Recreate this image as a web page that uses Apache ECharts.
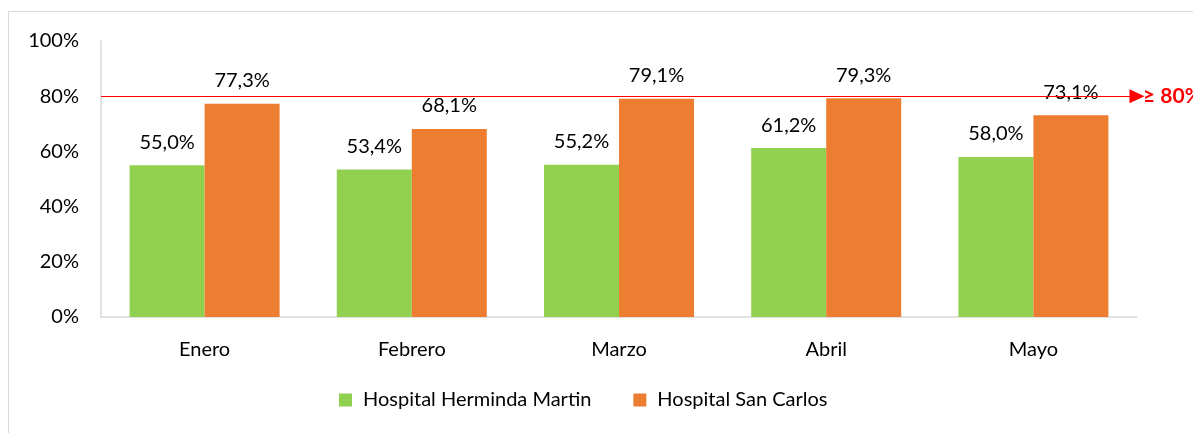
<!DOCTYPE html>
<html>
<head>
<meta charset="utf-8">
<script src="https://cdn.jsdelivr.net/npm/echarts@6/dist/echarts.min.js"></script>
<style>
html,body{margin:0;padding:0;background:#fff;}
#c{width:1193px;height:433px;}
</style>
</head>
<body>
<div id="c"></div>
<script>
const categories = ['Enero', 'Febrero', 'Marzo', 'Abril', 'Mayo'];
const herminda = [55.0, 53.4, 55.2, 61.2, 58.0];
const sanCarlos = [77.3, 68.1, 79.1, 79.3, 73.1];
const seriesNames = ['Hospital Herminda Martin', 'Hospital San Carlos'];
const target = 80;
const targetLabel = '≥ 80%';

const FONT = 'Lato, "Open Sans", sans-serif';
const fmt = v => v.toFixed(1).replace('.', ',') + '%';

const chart = echarts.init(document.getElementById('c'), null, {renderer: 'canvas'});
chart.setOption({
  backgroundColor: '#fff',
  animation: false,
  textStyle: {fontFamily: FONT},
  graphic: [{
    type: 'rect',
    shape: {x: 8.5, y: 11.5, width: 1300, height: 500},
    style: {fill: 'none', stroke: '#D9D9D9', lineWidth: 1},
    silent: true, z: -1
  }],
  grid: {left: 101, right: 56, top: 41, bottom: 116, containLabel: false},
  legend: {
    data: seriesNames,
    bottom: 18,
    left: 334,
    itemWidth: 13, itemHeight: 13, itemGap: 42,
    icon: 'rect',
    textStyle: {fontSize: 20, color: '#000', fontFamily: FONT, padding: [0, 0, 0, 6]}
  },
  xAxis: {
    type: 'category',
    data: categories,
    axisLine: {lineStyle: {color: '#D9D9D9', width: 1.5}},
    axisTick: {show: false},
    axisLabel: {fontSize: 20, color: '#000', margin: 23, fontFamily: FONT}
  },
  yAxis: {
    type: 'value',
    min: 0, max: 100, interval: 20,
    axisLine: {show: true, lineStyle: {color: '#D9D9D9', width: 1.5}},
    axisTick: {show: false},
    splitLine: {show: false},
    axisLabel: {fontSize: 20, color: '#000', margin: 22, formatter: '{value}%', fontFamily: FONT}
  },
  series: [{
    name: seriesNames[0],
    type: 'bar',
    data: herminda,
    barWidth: 75,
    barGap: '0%',
    itemStyle: {color: '#92D050'},
    label: {show: true, position: 'top', distance: 13, fontSize: 20, color: '#000', formatter: p => fmt(p.value), fontFamily: FONT}
  }, {
    name: seriesNames[1],
    type: 'bar',
    data: sanCarlos,
    barWidth: 75,
    barGap: '0%',
    itemStyle: {color: '#ED7D31'},
    label: {show: true, position: 'top', distance: 13, fontSize: 20, color: '#000', formatter: p => fmt(p.value), fontFamily: FONT},
    markLine: {
      silent: true,
      symbol: ['none', 'triangle'],
      symbolSize: [14, 15],
      lineStyle: {color: '#FF0000', width: 1.2, type: 'solid'},
      label: {show: true, position: 'end', distance: 6, formatter: targetLabel, color: '#FF0000', fontWeight: 'bold', fontSize: 21, fontFamily: FONT},
      data: [{yAxis: target}]
    }
  }]
});
</script>
</body>
</html>
